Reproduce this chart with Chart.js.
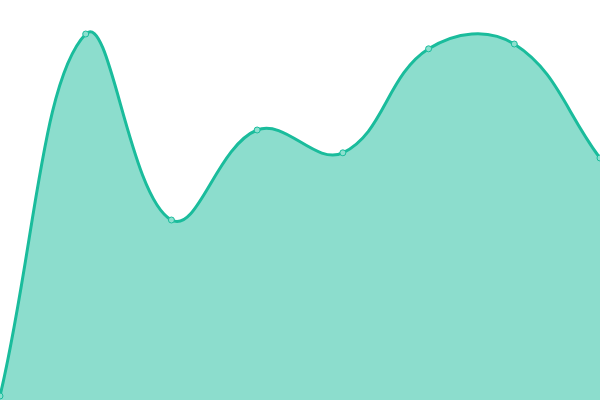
<!DOCTYPE html>
<html>
<head>
<meta charset="utf-8">
<style>
  html, body { margin: 0; padding: 0; background: #fff; }
  #wrap { width: 600px; height: 400px; }
</style>
<script src="https://cdn.jsdelivr.net/npm/chart.js@4"></script>
</head>
<body>
<div id="wrap"><canvas id="myChart"></canvas></div>
<script>
var labels = ['1', '2', '3', '4', '5', '6', '7', '8']
var values = [1, 91.5, 45, 67.5, 61.8, 87.8, 89, 60.5]

var ctx = document.getElementById('myChart').getContext('2d')

var chart = new Chart(ctx, {
    type: 'line',
    data: {
        labels: labels,
        datasets: [
            {
                data: values,
                fill: true,
                tension: 0.4,
                borderColor: '#1abc9c',
                borderWidth: 3,
                backgroundColor: 'rgba(26, 188, 156, 0.5)',
                pointRadius: 3,
                pointBorderWidth: 1,
                pointBorderColor: '#1abc9c',
                pointBackgroundColor: '#8ce0cf'
            }
        ]
    },
    options: {
        responsive: true,
        maintainAspectRatio: false,
        animation: false,
        layout: { padding: 0, autoPadding: false },
        plugins: {
            legend: { display: false },
            tooltip: { enabled: false }
        },
        scales: {
            x: { display: false },
            y: { display: false, min: 0, max: 100 }
        }
    }
})
</script>
</body>
</html>
